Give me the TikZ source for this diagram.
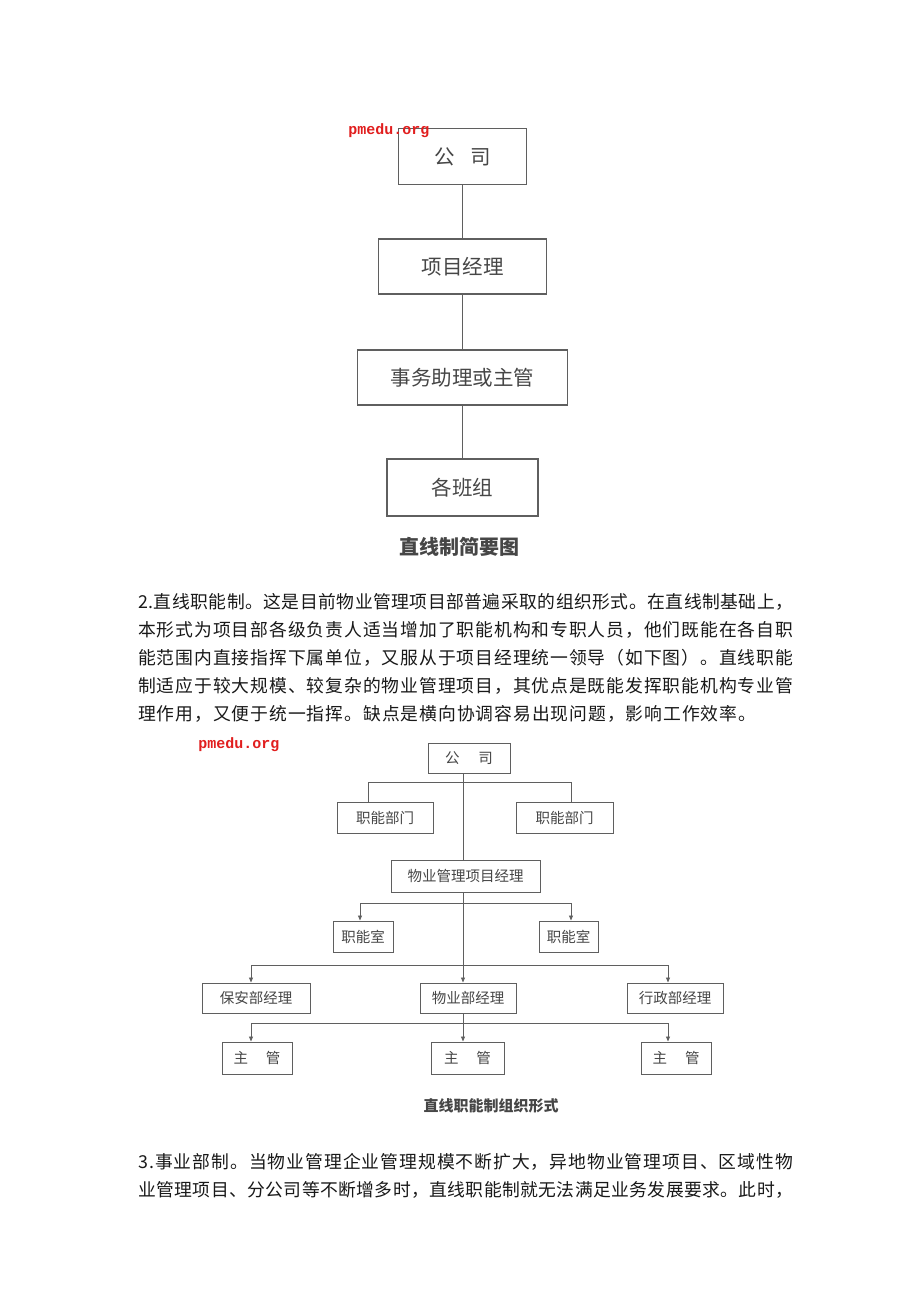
\documentclass[tikz,border=0pt]{standalone}
\usepackage{fontspec}
\setmainfont{Noto Sans CJK SC}
\newfontfamily\wmfont{Liberation Mono}
\usetikzlibrary{arrows.meta}
\definecolor{boxline}{RGB}{95,95,95}
\definecolor{boxtext}{RGB}{70,70,70}
\definecolor{bodytext}{RGB}{25,25,25}
\definecolor{wmred}{RGB}{225,30,30}
% spread the characters of a line evenly over a given width
\def\spreadtext#1{\spreadB#1\relax}
\def\spreadB#1{#1\spreadC}
\def\spreadC#1{\ifx\relax#1\else\hskip0pt plus 1fil #1\expandafter\spreadC\fi}
\newcommand{\jline}[2]{\makebox[#1pt][s]{\spreadtext{#2}}}
\tikzset{
  boxA/.style={draw=boxline, line width=1.4pt, inner sep=0pt, text=boxtext, font=\fontsize{20.5}{20.5}\selectfont},
  boxB/.style={draw=boxline, line width=1pt, inner sep=0pt, text=boxtext, font=\fontsize{14.5}{14.5}\selectfont},
  lineA/.style={draw=boxline, line width=1.3pt},
  lineB/.style={draw=boxline, line width=0.9pt},
  arr/.style={lineB, -{Triangle[length=5pt,width=4pt]}},
  body/.style={anchor=base west, inner sep=0pt, text=bodytext, font=\fontsize{17.8}{17.8}\selectfont},
  wmark/.style={text=wmred, inner sep=0pt, font=\wmfont\bfseries\fontsize{15}{15}\selectfont},
  capA/.style={text=boxtext, inner sep=0pt, font=\bfseries\fontsize{20}{20}\selectfont},
  capB/.style={text=boxtext, inner sep=0pt, font=\bfseries\fontsize{15}{15}\selectfont}
}
\begin{document}
\begin{tikzpicture}[x=1pt,y=-1pt]
\useasboundingbox (0,0) rectangle (920,1302);
\fill[white] (0,0) rectangle (920,1302);

% ---------- diagram 1 ----------
\node[boxA, minimum width=128pt, minimum height=56pt] (gs1) at (462.5,156.5) {公\hspace{16pt}司};
\node[boxA, minimum width=168pt, minimum height=55pt] (xm1) at (462.5,266.5) {项目经理};
\node[boxA, minimum width=210pt, minimum height=55pt] (sw1) at (462.5,377.5) {事务助理或主管};
\node[boxA, minimum width=151pt, minimum height=57pt] (bz1) at (462.5,487.5) {各班组};
\draw[lineA] (gs1.south) -- (xm1.north);
\draw[lineA] (xm1.south) -- (sw1.north);
\draw[lineA] (sw1.south) -- (bz1.north);
\node[wmark] (wm1) at (389,131) {pmedu.org};
\node[capA] (cap1) at (459,547) {直线制简要图};

% ---------- paragraph 1 ----------
\node[body] (p1) at (138,608) {\jline{655}{2.直线职能制。这是目前物业管理项目部普遍采取的组织形式。在直线制基础上，}};
\node[body] (p2) at (138,636) {\jline{655}{本形式为项目部各级负责人适当增加了职能机构和专职人员，他们既能在各自职}};
\node[body] (p3) at (138,664) {\jline{655}{能范围内直接指挥下属单位，又服从于项目经理统一领导（如下图）。直线职能}};
\node[body] (p4) at (138,692) {\jline{655}{制适应于较大规模、较复杂的物业管理项目，其优点是既能发挥职能机构专业管}};
\node[body] (p5) at (138,720) {\jline{618}{理作用，又便于统一指挥。缺点是横向协调容易出现问题，影响工作效率。}};

% ---------- diagram 2 ----------
\node[wmark] (wm2) at (239,745) {pmedu.org};
\node[boxB, minimum width=82pt, minimum height=30pt] (gs2) at (469,758) {公\hspace{19pt}司};
\node[boxB, minimum width=96pt, minimum height=31pt] (zn1) at (385,817.5) {职能部门};
\node[boxB, minimum width=97pt, minimum height=31pt] (zn2) at (564.5,817.5) {职能部门};
\node[boxB, minimum width=149pt, minimum height=32pt] (xm2) at (465.5,876) {物业管理项目经理};
\node[boxB, minimum width=60pt, minimum height=31pt] (zs1) at (363,936.5) {职能室};
\node[boxB, minimum width=59pt, minimum height=31pt] (zs2) at (568.5,936.5) {职能室};
\node[boxB, minimum width=108pt, minimum height=30pt] (ba) at (256,998) {保安部经理};
\node[boxB, minimum width=96pt, minimum height=30pt] (wy) at (468,998) {物业部经理};
\node[boxB, minimum width=96pt, minimum height=30pt] (xz) at (675,998) {行政部经理};
\node[boxB, minimum width=70pt, minimum height=32pt] (zg1) at (257,1058) {主\hspace{18pt}管};
\node[boxB, minimum width=73pt, minimum height=32pt] (zg2) at (467.5,1058) {主\hspace{18pt}管};
\node[boxB, minimum width=70pt, minimum height=32pt] (zg3) at (676,1058) {主\hspace{18pt}管};

\coordinate (spine) at (463,0);
\coordinate (b1L) at (368,782);
\coordinate (b1R) at (571,782);
\coordinate (b2L) at (360,903);
\coordinate (b2R) at (571,903);
\coordinate (b3L) at (251,965);
\coordinate (b3R) at (668,965);
\coordinate (b4L) at (251,1023);
\coordinate (b4R) at (668,1023);

\draw[lineB] (gs2.south -| spine) -- (xm2.north -| spine);
\draw[lineB] (zn1.north -| b1L) -- (b1L) -- (b1R) -- (zn2.north -| b1R);
\draw[lineB] (b2L) -- (b2R);
\draw[arr] (b2L) -- (zs1.north -| b2L);
\draw[arr] (b2R) -- (zs2.north -| b2R);
\draw[arr] (xm2.south -| spine) -- (wy.north -| spine);
\draw[lineB] (b3L) -- (b3R);
\draw[arr] (b3L) -- (ba.north -| b3L);
\draw[arr] (b3R) -- (xz.north -| b3R);
\draw[arr] (wy.south -| spine) -- (zg2.north -| spine);
\draw[lineB] (b4L) -- (b4R);
\draw[arr] (b4L) -- (zg1.north -| b4L);
\draw[arr] (b4R) -- (zg3.north -| b4R);

\node[capB] (cap2) at (491,1106) {直线职能制组织形式};

% ---------- paragraph 2 ----------
\node[body] (q1) at (138,1168) {\jline{655}{3.事业部制。当物业管理企业管理规模不断扩大，异地物业管理项目、区域性物}};
\node[body] (q2) at (138,1196) {\jline{655}{业管理项目、分公司等不断增多时，直线职能制就无法满足业务发展要求。此时，}};
\end{tikzpicture}
\end{document}
